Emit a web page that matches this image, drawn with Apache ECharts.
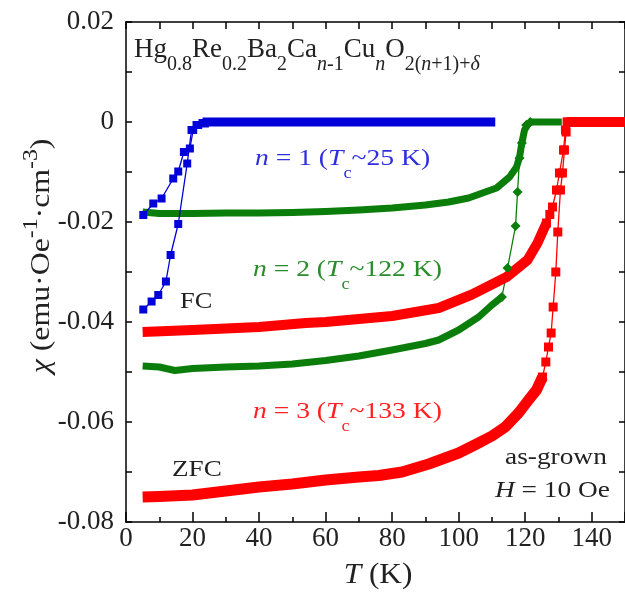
<!DOCTYPE html>
<html>
<head>
<meta charset="utf-8">
<script src="https://cdn.jsdelivr.net/npm/echarts@6/dist/echarts.min.js"></script>
<style>
  html, body { margin: 0; padding: 0; background: #fff; }
  #chart { width: 625px; height: 594px; }
</style>
</head>
<body>
<div id="chart"></div>
<script>
// ---------- Data (T in K, chi in emu/Oe/cm^3) ----------
// n = 1 (blue) ZFC and FC transitions
const blueZfcT = [5.2, 7.7, 9.7, 12.0, 13.4, 15.7, 18.4, 19.7, 21.2, 23.0];
const blueZfcX = [-0.0375, -0.0359, -0.0346, -0.0319, -0.0266, -0.0204, -0.0083, -0.0016, -0.0006, -0.0002];
const blueFcT = [5.2, 8.2, 10.7, 14.2, 15.7, 17.4, 19.2, 20.2, 21.7, 23.7];
const blueFcX = [-0.0186, -0.0163, -0.0153, -0.0113, -0.0099, -0.0060, -0.0053, -0.0016, -0.0006, -0.0003];
const blueNormT = [23, 40, 60, 80, 100, 111];
const blueNormX = [0, 0, 0, 0, 0, 0];

// n = 2 (green)
const greenFcT = [5, 10, 20, 30, 40, 50, 60, 70, 80, 90, 97, 103, 108, 111.4, 115.3, 117.4, 118.3, 119, 119.8, 121, 122, 126, 131];
const greenFcX = [-0.0180, -0.0183, -0.0183, -0.0182, -0.0182, -0.0181, -0.0179, -0.0176, -0.0172, -0.0166, -0.0160, -0.0152, -0.0140, -0.0132, -0.0110, -0.0090, -0.0070, -0.0042, -0.0016, -0.0003, 0, 0, 0];
const greenZfcT = [5, 10, 14.7, 20, 30, 40, 50, 60, 70, 80, 90, 94, 100, 106, 110, 113];
const greenZfcX = [-0.0488, -0.0490, -0.0497, -0.0493, -0.0490, -0.0488, -0.0484, -0.0477, -0.0468, -0.0456, -0.0443, -0.0436, -0.0416, -0.0390, -0.0366, -0.0350];
const greenZfcRiseT = [113, 114.7, 117.1, 117.7, 118.3, 119, 120.3, 121.5];
const greenZfcRiseX = [-0.0350, -0.0292, -0.0208, -0.0140, -0.0072, -0.0042, -0.0006, 0];

// n = 3 (red)
const redFcT = [5, 20, 40, 54, 60, 80, 94, 104, 114.4, 120.7, 123.7, 126.4];
const redFcX = [-0.0420, -0.0416, -0.0410, -0.0402, -0.0400, -0.0388, -0.0372, -0.0345, -0.0310, -0.0276, -0.0242, -0.0202];
const redFcRiseT = [126.4, 127.4, 128.2, 129.4, 130.3, 131.5, 132.1, 132.6];
const redFcRiseX = [-0.0202, -0.0185, -0.0170, -0.0136, -0.0102, -0.0056, -0.0016, 0];
const redZfcT = [5, 10, 20, 30, 40, 50, 60, 70, 76, 83, 91, 100, 106, 110, 114, 118, 121, 123.4, 125.2];
const redZfcX = [-0.0750, -0.0749, -0.0746, -0.0738, -0.0730, -0.0724, -0.0716, -0.0710, -0.0707, -0.0700, -0.0684, -0.0662, -0.0642, -0.0628, -0.0610, -0.0582, -0.0556, -0.0536, -0.0510];
const redZfcRiseT = [125.2, 126.2, 127.0, 127.8, 128.4, 129.2, 129.8, 130.6, 131.2, 131.8, 132.3, 132.8];
const redZfcRiseX = [-0.0510, -0.0480, -0.0450, -0.0422, -0.0370, -0.0300, -0.0220, -0.0136, -0.0102, -0.0056, -0.0020, 0];
const redNormT = [132.6, 140, 150];
const redNormX = [0, 0, 0];

// axis ticks
const xMin = 0, xMax = 150, xStep = 20;
const yMin = -0.08, yMax = 0.02, yStep = 0.02;

// ---------- Styles ----------
const FONT = 'Liberation Serif';
const BLUE = '#0000d8', GREEN = '#0a7d0a', RED = '#ff0000';
const BLUE_T = '#2f2fe0', GREEN_T = '#2a8c2a', RED_T = '#ff2222';

function zip(a, b) { return a.map((v, i) => [v, b[i]]); }

function band(name, t, x, color, width) {
  return { name, type: 'line', data: zip(t, x), showSymbol: false, symbol: 'none',
    lineStyle: { color, width, join: 'round' }, silent: true };
}
function rise(name, t, x, color, symbol, size) {
  return { name, type: 'line', data: zip(t, x), symbol, symbolSize: size, showSymbol: true,
    itemStyle: { color }, lineStyle: { color, width: 1.3 }, silent: true };
}

const series = [
  band('g-fc', greenFcT, greenFcX, GREEN, 7),
  band('g-zfc', greenZfcT, greenZfcX, GREEN, 7),
  rise('g-zfc-r', greenZfcRiseT, greenZfcRiseX, GREEN, 'diamond', 10),
  band('r-fc', redFcT, redFcX, RED, 10),
  rise('r-fc-r', redFcRiseT, redFcRiseX, RED, 'rect', 9),
  band('r-zfc', redZfcT, redZfcX, RED, 11),
  rise('r-zfc-r', redZfcRiseT, redZfcRiseX, RED, 'rect', 9),
  band('r-n', redNormT, redNormX, RED, 10),
  rise('b-zfc', blueZfcT, blueZfcX, BLUE, 'rect', 8),
  rise('b-fc', blueFcT, blueFcX, BLUE, 'rect', 8),
  band('b-n', blueNormT, blueNormX, BLUE, 9)
];

const axisLine = { show: true, onZero: false, lineStyle: { color: '#000', width: 1.5 } };
const tickStyle = { color: '#000', width: 1.5 };

function txt(x, y, text, rich, fill, size, opts) {
  const r = {};
  for (const k in rich) r[k] = Object.assign({ fontFamily: FONT }, rich[k]);
  return Object.assign({ type: 'text', x, y, silent: true,
    style: { text, rich: r, fill, fontFamily: FONT, fontSize: size, align: 'left', verticalAlign: 'middle' } }, opts || {});
}
function labelRich(size) {
  return {
    m: { fontSize: size, lineHeight: 46 },
    i: { fontSize: size, lineHeight: 46, fontStyle: 'italic' },
    c: { fontSize: 16, lineHeight: 16, verticalAlign: 'bottom' }
  };
}

const graphic = [
  txt(134, 50, '{m|Hg}{s|0.8}{m|Re}{s|0.2}{m|Ba}{s|2}{m|Ca}{si|n}{s|-1}{m|Cu}{si|n}{m|O}{s|2(}{si|n}{s|+1)+}{si|δ}', {
    m: { fontSize: 27, lineHeight: 50 },
    s: { fontSize: 20, lineHeight: 20, verticalAlign: 'bottom' },
    si: { fontSize: 20, lineHeight: 20, verticalAlign: 'bottom', fontStyle: 'italic' }
  }, '#222', 27),
  txt(255, 159, '{i|n}{m| = 1 (}{i|T}{c|c}{m|~25 K)}', labelRich(24), BLUE_T, 24, { scaleX: 1.15 }),
  txt(253, 270, '{i|n}{m| = 2 (}{i|T}{c|c}{m|~122 K)}', labelRich(24), GREEN_T, 24, { scaleX: 1.15 }),
  txt(253, 412, '{i|n}{m| = 3 (}{i|T}{c|c}{m|~133 K)}', labelRich(24), RED_T, 24, { scaleX: 1.15 }),
  txt(180, 302, '{m|FC}', { m: { fontSize: 24 } }, '#222', 24, { scaleX: 1.1 }),
  txt(172, 470, '{m|ZFC}', { m: { fontSize: 24 } }, '#222', 24, { scaleX: 1.13 }),
  txt(505, 458, '{m|as-grown}', { m: { fontSize: 24 } }, '#222', 24, { scaleX: 1.14 }),
  txt(495, 491, '{i|H}{m| = 10 Oe}', { m: { fontSize: 24 }, i: { fontSize: 24, fontStyle: 'italic' } }, '#222', 24, { scaleX: 1.14 }),
  // x axis title
  txt(378, 575, '{i|T}{m| (K)}', { m: { fontSize: 29 }, i: { fontSize: 29, fontStyle: 'italic' } }, '#222', 29, { scaleX: 1.08 }),
  // y axis title (rotated)
  txt(42, 256, '{i|χ}{m| (emu·Oe}{p|-1}{m|·cm}{p|-3}{m|)}', {
    m: { fontSize: 27, lineHeight: 40 },
    i: { fontSize: 27, lineHeight: 40, fontStyle: 'italic' },
    p: { fontSize: 20, lineHeight: 16, verticalAlign: 'top' }
  }, '#222', 27, { rotation: Math.PI / 2, scaleX: 1.18 })
];
graphic[8].style.align = 'center';
graphic[9].style.align = 'center';

const chart = echarts.init(document.getElementById('chart'), null, { renderer: 'canvas' });
chart.setOption({
  animation: false,
  backgroundColor: '#fff',
  grid: { left: 126, top: 22, width: 499, height: 500, containLabel: false },
  xAxis: [
    { type: 'value', position: 'bottom', min: xMin, max: xMax, interval: xStep,
      axisLine, splitLine: { show: false },
      axisTick: { inside: true, length: 10, lineStyle: tickStyle },
      minorTick: { show: true, splitNumber: 2, length: 5, lineStyle: tickStyle },
      axisLabel: { fontFamily: FONT, fontSize: 27, color: '#222', margin: 3, showMaxLabel: false } },
    { type: 'value', position: 'top', min: xMin, max: xMax, interval: xStep / 2,
      axisLine, splitLine: { show: false },
      axisTick: { inside: true, length: 7, lineStyle: tickStyle },
      axisLabel: { show: false } }
  ],
  yAxis: [
    { type: 'value', position: 'left', min: yMin, max: yMax, interval: yStep,
      axisLine, splitLine: { show: false },
      axisTick: { inside: true, length: 6, lineStyle: tickStyle },
      minorTick: { show: true, splitNumber: 2, length: 6, lineStyle: tickStyle },
      axisLabel: { fontFamily: FONT, fontSize: 27, color: '#222', margin: 12,
        formatter: v => Math.abs(v) < 1e-9 ? '0' : v.toFixed(2) } },
    { type: 'value', position: 'right', min: yMin, max: yMax, interval: yStep,
      axisLine, splitLine: { show: false },
      axisTick: { inside: true, length: 6, lineStyle: tickStyle },
      minorTick: { show: true, splitNumber: 2, length: 6, lineStyle: tickStyle },
      axisLabel: { show: false } }
  ],
  series: series.map(s => Object.assign(s, { xAxisIndex: 0, yAxisIndex: 0, clip: false })),
  graphic
});
</script>
</body>
</html>
